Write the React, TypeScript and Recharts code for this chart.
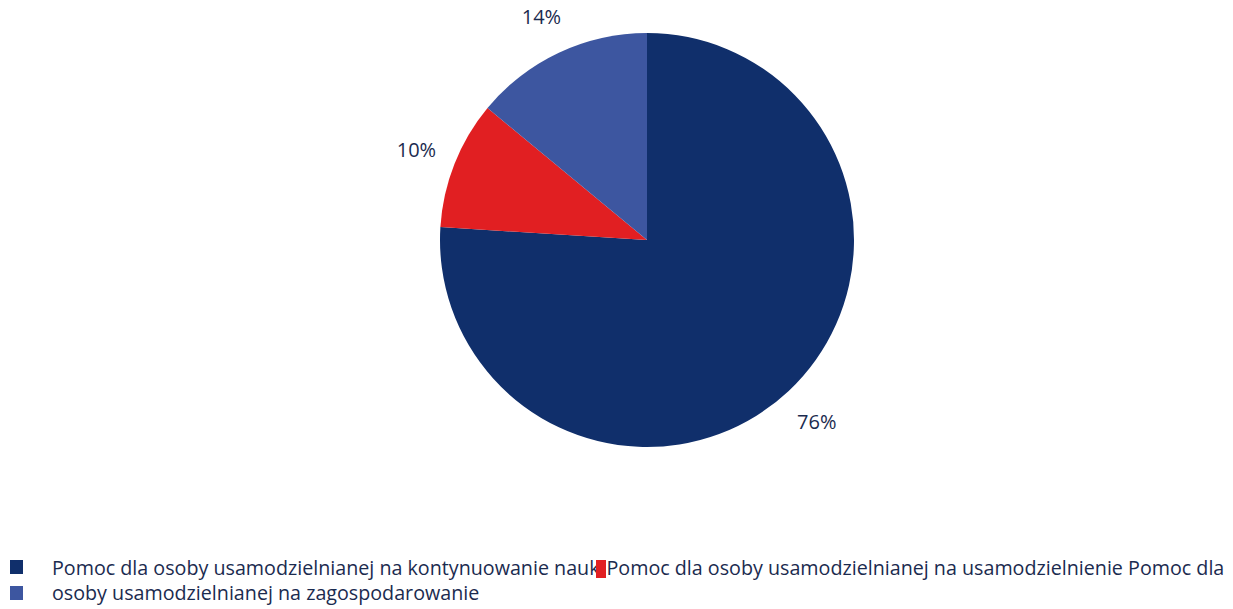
import React from "react"
import { Cell, Pie, PieChart } from "recharts"

const categories = [
    "Pomoc dla osoby usamodzielnianej na kontynuowanie nauki",
    "Pomoc dla osoby usamodzielnianej na usamodzielnienie",
    "Pomoc dla osoby usamodzielnianej na zagospodarowanie",
]
const shares = [76, 10, 14]
const colors = ["#102f6b", "#e11f22", "#3d56a0"]

const data = categories.map((name, i) => ({ name, value: shares[i], color: colors[i] }))

const RAD = Math.PI / 180
const textColor = "#1b2b4f"
const font = "'Open Sans', sans-serif"

function renderLabel(props: any) {
    const { cx, cy, midAngle, outerRadius, value } = props
    const r = outerRadius + 41
    const x = cx + r * Math.cos(-midAngle * RAD)
    const y = cy + r * Math.sin(-midAngle * RAD)
    return (
        <text x={x} y={y + 1} fill={textColor} fontSize={20} fontWeight={500} fontFamily={font} textAnchor="middle" dominantBaseline="central">
            {`${value}%`}
        </text>
    )
}

export default function App() {
    return (
        <div style={{ position: "absolute", left: 0, top: 0, width: 1233, height: 609, background: "#fff", overflow: "hidden" }}>
            <PieChart width={1233} height={609} margin={{ top: 0, right: 0, bottom: 0, left: 0 }}>
                <Pie
                    data={data}
                    dataKey="value"
                    cx={647}
                    cy={240}
                    outerRadius={207}
                    startAngle={90}
                    endAngle={-270}
                    stroke="none"
                    label={renderLabel}
                    labelLine={false}
                    isAnimationActive={false}
                >
                    {data.map((entry, index) => (
                        <Cell key={`cell-${index}`} fill={entry.color} />
                    ))}
                </Pie>
            </PieChart>
            <div style={{ position: "absolute", left: 10, top: 555, width: 1230, fontFamily: font, fontSize: 19.7, fontWeight: 500, color: textColor }}>
                <span style={{ position: "absolute", left: 0, top: 5, width: 13, height: 14, background: colors[0] }}></span>
                <span style={{ position: "absolute", left: 0, top: 31, width: 13, height: 14, background: colors[2] }}></span>
                <div style={{ position: "absolute", left: 42, top: 0, whiteSpace: "nowrap", lineHeight: "25px" }}>
                    {categories[0]}
                    <span style={{ display: "inline-block", width: 10, height: 18, background: colors[1], verticalAlign: "-3px", marginLeft: -8 }}></span>
                    {categories[1]} Pomoc dla
                </div>
                <div style={{ position: "absolute", left: 42, top: 25, whiteSpace: "nowrap", lineHeight: "25px" }}>
                    osoby usamodzielnianej na zagospodarowanie
                </div>
            </div>
        </div>
    )
}
